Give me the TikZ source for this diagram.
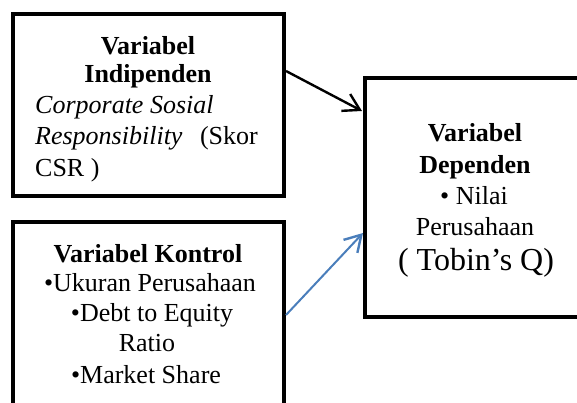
\documentclass[tikz,border=0pt]{standalone}
\usepackage{fontspec}
\setmainfont{Liberation Serif}
\usetikzlibrary{arrows.meta,calc}
\definecolor{arrowblue}{HTML}{4A7EBB}
\tikzset{
  box/.style={draw=black, line width=4pt, rectangle, inner sep=0pt},
  txt/.style={inner sep=0pt, anchor=base, font=\fontsize{26}{31}\selectfont},
  txtl/.style={txt, anchor=base west},
  txtr/.style={txt, anchor=base east},
  big/.style={inner sep=0pt, anchor=base, font=\fontsize{32}{38}\selectfont},
  conn/.style={line width=2.4pt, -{Straight Barb[length=16pt,width=19pt,line width=2.4pt]}},
}
\begin{document}
\begin{tikzpicture}[x=1pt,y=1pt]
\useasboundingbox (0,0) rectangle (577,402);
\clip (0,0) rectangle (577,402);
% boxes
\node[box, minimum width=271pt, minimum height=182pt] (b1) at (148.5,297) {};
\node[box, minimum width=271pt, minimum height=198pt] (b2) at (148.5,81) {};
\node[box, minimum width=220pt, minimum height=239pt] (b3) at (475,204.5) {};
% box 1 text
\node[txt] (t11) at (148,347.5) {\textbf{Variabel}};
\node[txt] (t12) at (148,319.5) {\textbf{Indipenden}};
\node[txtl] (t13) at (35,288.7) {\textit{Corporate Sosial}};
\node[txtl] (t14) at (35,257) {\textit{Responsibility}};
\node[txtr] (t15) at (258,257) {(Skor};
\node[txtl] (t16) at (35,225.3) {CSR )};
% box 2 text
\node[txt] (t21) at (148,139.7) {\textbf{Variabel Kontrol}};
\node[txt] (t22) at (150,110.3) {•Ukuran Perusahaan};
\node[txt] (t23) at (152,80.3) {•Debt to Equity};
\node[txt] (t24) at (147,50.3) {Ratio};
\node[txt] (t25) at (146,18.7) {•Market Share};
% box 3 text
\node[txt] (t31) at (475,260.3) {\textbf{Variabel}};
\node[txt] (t32) at (475,228.7) {\textbf{Dependen}};
\node[txt] (t33) at (474,198) {• Nilai};
\node[txt] (t34) at (475,167) {Perusahaan};
\node[big] (t35) at (476,131.3) {( Tobin’s Q)};
% connectors
\coordinate (a1s) at ($(b1.north east)+(0,-59)$);
\coordinate (a1e) at ($(b3.north west)+(-1,-35)$);
\coordinate (a2s) at ($(b2.north east)+(0,-95)$);
\coordinate (a2e) at ($(b3.north west)+(0,-157)$);
\draw[conn, black] (a1s) -- (a1e);
\draw[conn, arrowblue, line width=2pt] (a2s) -- (a2e);
\end{tikzpicture}
\end{document}
